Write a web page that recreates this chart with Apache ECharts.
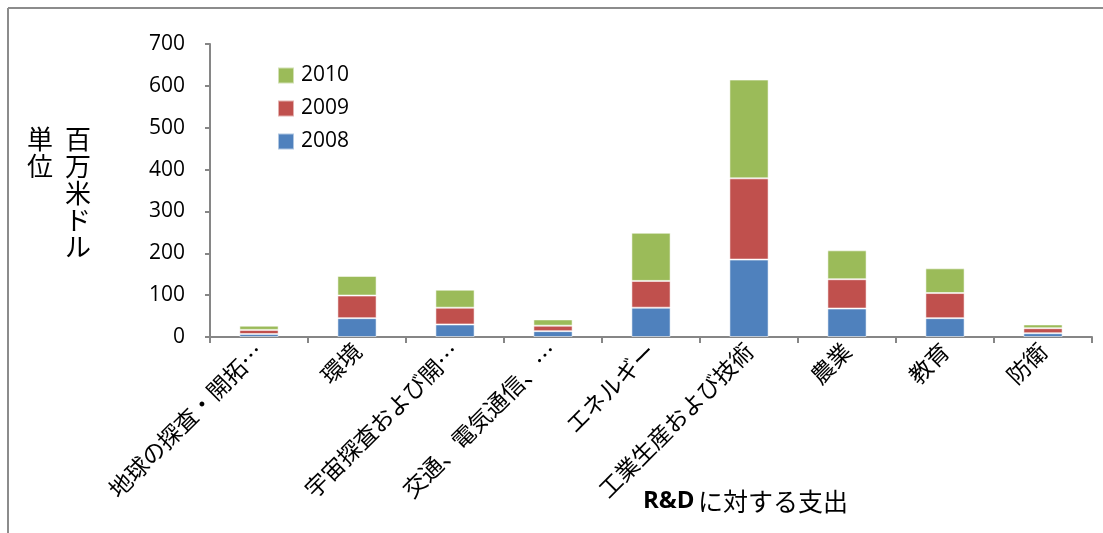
<!DOCTYPE html>
<html>
<head>
<meta charset="utf-8">
<script src="https://cdn.jsdelivr.net/npm/echarts@6/dist/echarts.min.js"></script>
<style>
  html, body { margin: 0; padding: 0; background: #fff; }
  #chart { width: 1103px; height: 533px; }
</style>
</head>
<body>
<div id="chart"></div>
<script>
// R&D spending by field, million US dollars
const categories = ['地球の探査・開拓…', '環境', '宇宙探査および開…', '交通、電気通信、…', 'エネルギー', '工業生産および技術', '農業', '教育', '防衛'];
const years = ['2008', '2009', '2010'];
const values2008 = [7, 45, 30, 14, 70, 185, 68, 45, 9];
const values2009 = [10, 54, 40, 13, 64, 194, 70, 60, 12];
const values2010 = [10, 47, 43, 15, 115, 236, 69, 59, 9];
const yTicks = { min: 0, max: 700, interval: 100 };
const colors = { '2008': '#4F81BD', '2009': '#C0504D', '2010': '#9BBB59' };

const seriesValues = { '2008': values2008, '2009': values2009, '2010': values2010 };
const jp = '"Noto Sans CJK JP", sans-serif';
const latin = '"Open Sans", "Noto Sans", sans-serif';
const axisGray = '#868686';

const chart = echarts.init(document.getElementById('chart'), null, { renderer: 'canvas' });

chart.setOption({
  animation: false,
  backgroundColor: '#fff',
  grid: { left: 210, right: 11, top: 44, bottom: 196, containLabel: false },
  legend: {
    data: ['2010', '2009', '2008'],
    orient: 'vertical',
    left: 272,
    top: 60,
    itemWidth: 16,
    itemHeight: 16,
    itemGap: 12,
    icon: 'rect',
    textStyle: { fontFamily: latin, fontSize: 21, color: '#000', padding: [0, 0, 0, 2] }
  },
  xAxis: {
    type: 'category',
    data: categories,
    axisLine: { lineStyle: { color: axisGray, width: 2 } },
    axisTick: { show: true, length: 6, lineStyle: { color: axisGray, width: 2 } },
    axisLabel: {
      rotate: 45,
      interval: 0,
      margin: 10,
      fontFamily: jp,
      fontSize: 23,
      color: '#000'
    }
  },
  yAxis: {
    type: 'value',
    min: yTicks.min,
    max: yTicks.max,
    interval: yTicks.interval,
    splitLine: { show: false },
    axisLine: { show: true, lineStyle: { color: axisGray, width: 2 } },
    axisTick: { show: true, length: 5, lineStyle: { color: axisGray, width: 2 } },
    axisLabel: { margin: 25, fontFamily: latin, fontSize: 21, color: '#000' }
  },
  series: years.map(y => ({
    name: y,
    type: 'bar',
    stack: 'total',
    barWidth: '40%',
    data: seriesValues[y],
    itemStyle: { color: colors[y], borderColor: 'rgba(255,255,255,0.55)', borderWidth: 1 }
  })),
  graphic: [
    // outer frame (top and left edges)
    { type: 'line', shape: { x1: 8, y1: 8, x2: 1103, y2: 8 }, style: { stroke: '#8c8c8c', lineWidth: 2 } },
    { type: 'line', shape: { x1: 8, y1: 8, x2: 8, y2: 533 }, style: { stroke: '#8c8c8c', lineWidth: 2 } },
    // y-axis title, two vertical columns
    {
      type: 'text', left: 27, top: 126,
      style: { text: '単\n位', font: '26px ' + jp, fill: '#000', lineHeight: 27 }
    },
    {
      type: 'text', left: 65, top: 126,
      style: { text: '百\n万\n米\nド\nル', font: '26px ' + jp, fill: '#000', lineHeight: 27 }
    },
    // x-axis title
    {
      type: 'text', left: 643, top: 489,
      style: {
        text: '{b|R&D} {r|に対する支出}',
        rich: {
          b: { fontFamily: latin, fontWeight: 'bold', fontSize: 24, fill: '#000' },
          r: { fontFamily: jp, fontSize: 25, fill: '#000' }
        }
      }
    }
  ]
});
</script>
</body>
</html>
